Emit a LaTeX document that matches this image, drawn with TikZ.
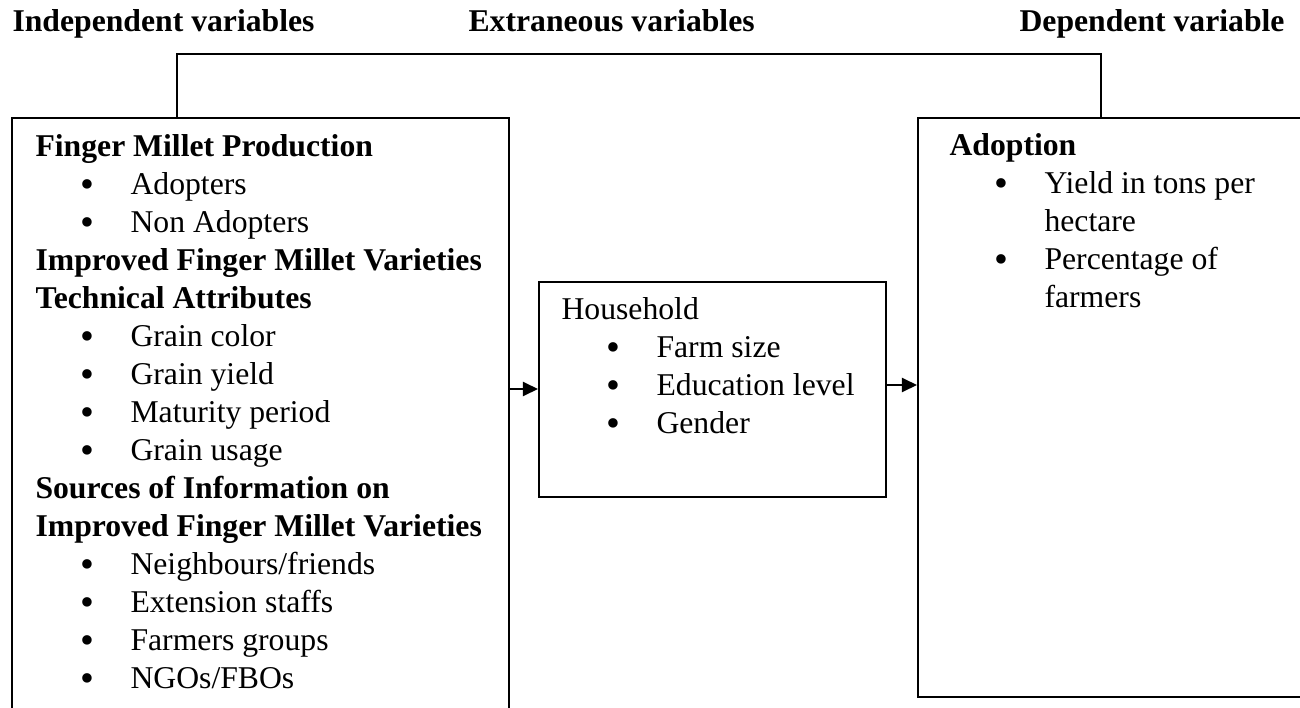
\documentclass[tikz,border=0pt]{standalone}
\usepackage{fontspec}
\setmainfont{Liberation Serif}
\usetikzlibrary{arrows.meta,fit}
\newcommand\blitem[4]{%
  \node[bul] (#1b) at ({#2-43},{#3+3}) {\textbullet};
  \node[txt] (#1) at (#2,#3) {#4};}
\begin{document}
\begin{tikzpicture}[x=0.3786pt,y=-0.3786pt,
  boxline/.style={draw=black,line width=0.75pt,inner sep=0pt},
  txt/.style={anchor=base west,inner sep=0pt,font=\fontsize{12}{14}\selectfont},
  hd/.style={anchor=base west,inner sep=0pt,font=\fontsize{12}{14}\selectfont\bfseries},
  bul/.style={anchor=base,inner sep=0pt,text height=7pt,text depth=0pt,font=\fontsize{15}{15}\selectfont},
  conn/.style={line width=0.75pt},
  arr/.style={line width=0.75pt,-{Triangle[length=5.7pt,width=5.3pt]}}]
\useasboundingbox (0,0) rectangle (1300,707);
% headers
\node[hd] (hIndep) at (12,32) {Independent variables};
\node[hd] (hExtr) at (468,32) {Extraneous variables};
\node[hd] (hDep) at (1019,32) {Dependent variable};
% boxes
\node[boxline,fit={(12,118) (509,730)}] (L) {};
\node[boxline,fit={(539,282) (886,497)}] (M) {};
\node[boxline,fit={(918,118) (1320,697)}] (R) {};
% connector
\coordinate (c1) at (177,54);
\coordinate (c2) at (1101,54);
\draw[conn] (c1 |- L.north) -- (c1) -- (c2) -- (c2 |- R.north);
% arrows
\coordinate (a1) at (0,389);
\coordinate (a2) at (0,385);
\draw[arr] (L.east |- a1) -- (M.west |- a1);
\draw[arr] (M.east |- a2) -- (R.west |- a2);
% left box text
\node[hd] (l0) at (35,156) {Finger Millet Production};
\blitem{l1}{130}{194}{Adopters}
\blitem{l2}{130}{232}{Non Adopters}
\node[hd] (l3) at (35,270) {Improved Finger Millet Varieties};
\node[hd] (l4) at (35,308) {Technical Attributes};
\blitem{l5}{130}{346}{Grain color}
\blitem{l6}{130}{384}{Grain yield}
\blitem{l7}{130}{422}{Maturity period}
\blitem{l8}{130}{460}{Grain usage}
\node[hd] (l9) at (35,498) {Sources of Information on};
\node[hd] (l10) at (35,536) {Improved Finger Millet Varieties};
\blitem{l11}{130}{574}{Neighbours/friends}
\blitem{l12}{130}{612}{Extension staffs}
\blitem{l13}{130}{650}{Farmers groups}
\blitem{l14}{130}{688}{NGOs/FBOs}
% middle box text
\node[txt] (m0) at (561,319) {Household};
\blitem{m1}{656}{357}{Farm size}
\blitem{m2}{656}{395}{Education level}
\blitem{m3}{656}{433}{Gender}
% right box text
\node[hd] (r0) at (949,155) {Adoption};
\blitem{r1}{1044}{193}{Yield in tons per}
\node[txt] (r1b2) at (1044,231) {hectare};
\blitem{r2}{1044}{269}{Percentage of}
\node[txt] (r2b2) at (1044,307) {farmers};
\end{tikzpicture}
\end{document}
